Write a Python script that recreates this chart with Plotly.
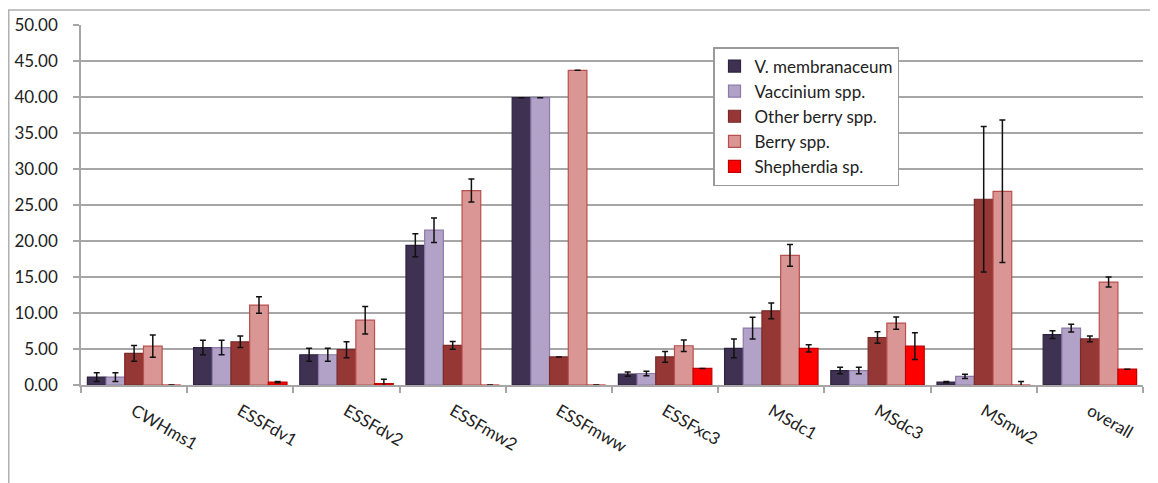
import plotly.graph_objects as go

categories = ["CWHms1", "ESSFdv1", "ESSFdv2", "ESSFmw2", "ESSFmww",
              "ESSFxc3", "MSdc1", "MSdc3", "MSmw2", "overall"]

series_names = ["V. membranaceum", "Vaccinium spp.", "Other berry spp.",
                "Berry spp.", "Shepherdia sp."]

v_membranaceum = [1.1, 5.2, 4.2, 19.4, 39.9, 1.5, 5.1, 2.0, 0.4, 7.0]
v_membranaceum_err = [0.6, 1.0, 0.9, 1.6, 0.0, 0.3, 1.3, 0.45, 0.1, 0.55]

vaccinium = [1.1, 5.2, 4.2, 21.5, 39.9, 1.6, 7.9, 2.0, 1.2, 7.9]
vaccinium_err = [0.6, 1.0, 0.9, 1.7, 0.0, 0.3, 1.5, 0.45, 0.3, 0.55]

other_berry = [4.4, 6.0, 4.9, 5.5, 3.9, 3.9, 10.3, 6.6, 25.8, 6.4]
other_berry_err = [1.1, 0.8, 1.1, 0.55, 0.0, 0.75, 1.1, 0.8, 10.1, 0.4]

berry = [5.4, 11.1, 9.0, 27.0, 43.7, 5.45, 18.0, 8.6, 26.9, 14.3]
berry_err = [1.55, 1.15, 1.9, 1.6, 0.0, 0.8, 1.5, 0.85, 9.9, 0.7]

shepherdia = [0.0, 0.4, 0.2, 0.0, 0.0, 2.3, 5.1, 5.4, 0.0, 2.2]
shepherdia_err = [0.0, 0.1, 0.6, 0.0, 0.0, 0.0, 0.5, 1.85, 0.5, 0.0]

y_ticks = [0, 5, 10, 15, 20, 25, 30, 35, 40, 45, 50]

fills = ["#3F3151", "#B3A2C7", "#953735", "#D99694", "#FF0000"]
borders = ["#2E2340", "#8C7AAA", "#7A2A28", "#B8504D", "#C00000"]

values = [v_membranaceum, vaccinium, other_berry, berry, shepherdia]
errors = [v_membranaceum_err, vaccinium_err, other_berry_err, berry_err, shepherdia_err]

FONT = "Lato, 'Open Sans', sans-serif"

fig = go.Figure()
for name, vals, errs, fc, bc in zip(series_names, values, errors, fills, borders):
    fig.add_trace(go.Bar(
        name=name, x=categories, y=vals,
        marker=dict(color=fc, line=dict(color=bc, width=1.2)),
        error_y=dict(type="data", array=errs, visible=True,
                     color="#111111", thickness=1.5, width=3),
    ))

# page body has an 8px default margin; figure coords = screen - 8
OFF = 8
W, H = 1158 - OFF, 483 - OFF
L, R, T, B = 81 - OFF, 15, 25 - OFF, 483 - 385
pw = W - L - R
ph = H - T - B

def px_to_paper_x(sx):
    return (sx - OFF - L) / pw

def px_to_paper_y(sy):
    return (H - B - (sy - OFF)) / ph

fig.update_layout(
    width=W, height=H,
    margin=dict(l=L, r=R, t=T, b=B, autoexpand=False),
    barmode="group", bargap=0.12, bargroupgap=0,
    plot_bgcolor="white", paper_bgcolor="white",
    font=dict(family=FONT, size=15, color="#222222"),
    showlegend=True,
    legend=dict(
        x=px_to_paper_x(713), y=px_to_paper_y(47),
        xanchor="left", yanchor="top",
        bgcolor="white", bordercolor="#9a9a9a", borderwidth=1.5,
        font=dict(family=FONT, size=17, color="#222222"),
        tracegroupgap=0,
    ),
    xaxis=dict(
        type="category", tickangle=30, automargin=False,
        tickfont=dict(family=FONT, size=17, color="#222222"),
        showline=True, linecolor="#a6a6a6", linewidth=1.5,
        ticks="outside", ticklen=6, tickcolor="#a6a6a6", tickwidth=1.5,
        tickson="boundaries", showgrid=False, ticklabelstandoff=8,
    ),
    yaxis=dict(
        range=[0, 50], tickvals=y_ticks, automargin=False,
        ticktext=[f"{v:.2f}" for v in y_ticks],
        tickfont=dict(family=FONT, size=17, color="#222222"),
        showline=True, linecolor="#a6a6a6", linewidth=1.5,
        ticks="outside", ticklen=6, tickcolor="#a6a6a6", tickwidth=1.5,
        ticklabelstandoff=12,
        showgrid=True, gridcolor="#a6a6a6", gridwidth=1.5,
        zeroline=False,
    ),
    shapes=[dict(
        type="rect", xref="paper", yref="paper",
        x0=px_to_paper_x(8.75), x1=px_to_paper_x(1170),
        y0=px_to_paper_y(520), y1=px_to_paper_y(10),
        line=dict(color="#b0b0b0", width=1.5), layer="below",
    )],
)

fig.write_html("out.html")
